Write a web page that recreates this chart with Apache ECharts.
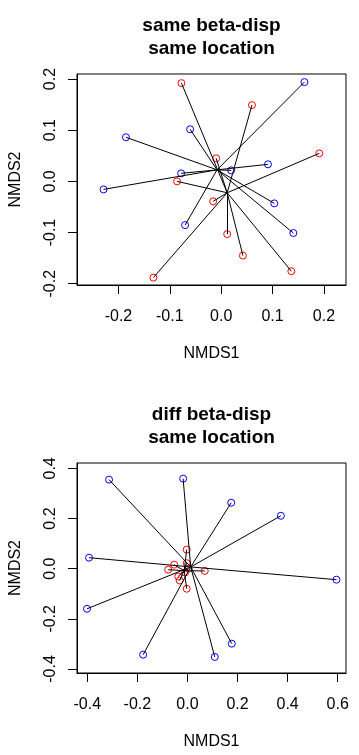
<!DOCTYPE html>
<html>
<head>
<meta charset="utf-8">
<script src="https://cdn.jsdelivr.net/npm/echarts@6/dist/echarts.min.js"></script>
<style>
html,body{margin:0;padding:0;background:#fff;}
#c{width:359px;height:755px;}
</style>
</head>
<body>
<div id="c"></div>
<script>
// ---- Panel 1: same beta-disp, same location ----
const p1RedX  = [-0.0774, 0.0599, 0.191, -0.0098, -0.0859, -0.0156, 0.0117, 0.0423, 0.1366, -0.132];
const p1RedY  = [0.192, 0.149, 0.0548, 0.045, 0.0, -0.039, -0.103, -0.145, -0.1756, -0.188];
const p1BlueX = [0.162, -0.0605, -0.1854, 0.0911, 0.0195, -0.078, -0.229, 0.1034, 0.1405, -0.0703];
const p1BlueY = [0.194, 0.1018, 0.0862, 0.0333, 0.0215, 0.0157, -0.0157, -0.043, -0.101, -0.0855];
const p1RedCentroid  = [0.0117, -0.0223];
const p1BlueCentroid = [-0.008, 0.0225];
const p1XTicks = [-0.2, -0.1, 0.0, 0.1, 0.2];
const p1YTicks = [-0.2, -0.1, 0.0, 0.1, 0.2];

// ---- Panel 2: diff beta-disp, same location ----
const p2RedX  = [-0.003, -0.053, -0.077, -0.003, 0.069, -0.037, -0.031, -0.003, 0.005, -0.01];
const p2RedY  = [0.076, 0.016, -0.004, 0.022, -0.009, -0.031, -0.047, -0.08, 0.0, -0.015];
const p2BlueX = [-0.313, -0.0173, 0.1747, 0.373, -0.393, 0.595, -0.401, -0.177, 0.109, 0.177];
const p2BlueY = [0.355, 0.359, 0.263, 0.211, 0.0439, -0.0439, -0.16, -0.343, -0.352, -0.299];
const p2RedCentroid  = [-0.013, -0.008];
const p2BlueCentroid = [0.013, 0.007];
const p2XTicks = [-0.4, -0.2, 0.0, 0.2, 0.4, 0.6];
const p2YTicks = [-0.4, -0.2, 0.0, 0.2, 0.4];

const titles1 = ['same beta-disp', 'same location'];
const titles2 = ['diff beta-disp', 'same location'];
const xName = 'NMDS1';
const yName = 'NMDS2';

const FONT = "'Liberation Sans', Arial, sans-serif";
const RED = '#FF0000', BLUE = '#0000FF';

function pts(xs, ys){ return xs.map((x,i)=>[x, ys[i]]); }
function spokes(c, xs, ys){ return xs.map((x,i)=>({coords:[c, [x, ys[i]]]})); }

function xAxisDef(idx, min, max, ticks){
  return {
    gridIndex: idx, type: 'value', min: min, max: max,
    name: xName, nameLocation: 'middle', nameGap: 61,
    nameTextStyle: {color:'#000', fontSize:16, fontFamily:FONT},
    axisLine: {show:true, onZero:false, lineStyle:{color:'#000', width:1}},
    axisTick: {show:true, length:9, customValues: ticks, lineStyle:{color:'#000', width:1}},
    axisLabel: {show:true, customValues: ticks, margin: 24, color:'#000', fontSize:16, fontFamily:FONT,
      formatter: v => Number(v).toFixed(1)},
    splitLine: {show:false}
  };
}
function yAxisDef(idx, min, max, ticks){
  return {
    gridIndex: idx, type: 'value', min: min, max: max,
    name: yName, nameLocation: 'middle', nameGap: 53,
    nameTextStyle: {color:'#000', fontSize:16, fontFamily:FONT},
    axisLine: {show:true, onZero:false, lineStyle:{color:'#000', width:1}},
    axisTick: {show:true, length:9, customValues: ticks, lineStyle:{color:'#000', width:1}},
    axisLabel: {show:true, customValues: ticks, rotate: 90, margin: 18, color:'#000', fontSize:16, fontFamily:FONT,
      formatter: v => Number(v).toFixed(1)},
    splitLine: {show:false}
  };
}
function scatter(idx, data, color){
  return {type:'scatter', xAxisIndex: idx, yAxisIndex: idx, data: data,
    symbol:'circle', symbolSize: 7,
    itemStyle:{color: 'rgba(0,0,0,0)', borderColor: color, borderWidth: 1, opacity:1},
    emphasis:{disabled:true}, silent:true, z: 2};
}
function lines(idx, data){
  return {type:'lines', coordinateSystem:'cartesian2d', xAxisIndex: idx, yAxisIndex: idx,
    data: data, polyline:false, symbol:['none','none'],
    lineStyle:{color:'#000', width:1, opacity:1, curveness:0},
    effect:{show:false}, silent:true, z: 3};
}

const chart = echarts.init(document.getElementById('c'), null, {renderer:'canvas'});
chart.setOption({
  animation: false,
  backgroundColor: '#fff',
  grid: [
    {left: 77, top: 74, width: 269, height: 211, show:true, borderColor:'#000', borderWidth:1, backgroundColor:'transparent'},
    {left: 77, top: 463, width: 269, height: 210, show:true, borderColor:'#000', borderWidth:1, backgroundColor:'transparent'}
  ],
  xAxis: [
    xAxisDef(0, -0.2807, 0.243, p1XTicks),
    xAxisDef(1, -0.441, 0.633, p2XTicks)
  ],
  yAxis: [
    yAxisDef(0, -0.2025, 0.2098, p1YTicks),
    yAxisDef(1, -0.416, 0.4215, p2YTicks)
  ],
  graphic: [
    {type:'text', x: 211.5, y: 26, style:{text: titles1[0], font: 'bold 19px ' + FONT, fill:'#000', align:'center', verticalAlign:'middle'}},
    {type:'text', x: 211.5, y: 49, style:{text: titles1[1], font: 'bold 19px ' + FONT, fill:'#000', align:'center', verticalAlign:'middle'}},
    {type:'text', x: 211.5, y: 415, style:{text: titles2[0], font: 'bold 19px ' + FONT, fill:'#000', align:'center', verticalAlign:'middle'}},
    {type:'text', x: 211.5, y: 438, style:{text: titles2[1], font: 'bold 19px ' + FONT, fill:'#000', align:'center', verticalAlign:'middle'}}
  ],
  series: [
    scatter(0, pts(p1RedX, p1RedY), RED),
    scatter(0, pts(p1BlueX, p1BlueY), BLUE),
    lines(0, spokes(p1RedCentroid, p1RedX, p1RedY)),
    lines(0, spokes(p1BlueCentroid, p1BlueX, p1BlueY)),
    scatter(1, pts(p2RedX, p2RedY), RED),
    scatter(1, pts(p2BlueX, p2BlueY), BLUE),
    lines(1, spokes(p2RedCentroid, p2RedX, p2RedY)),
    lines(1, spokes(p2BlueCentroid, p2BlueX, p2BlueY))
  ]
});
</script>
</body>
</html>
